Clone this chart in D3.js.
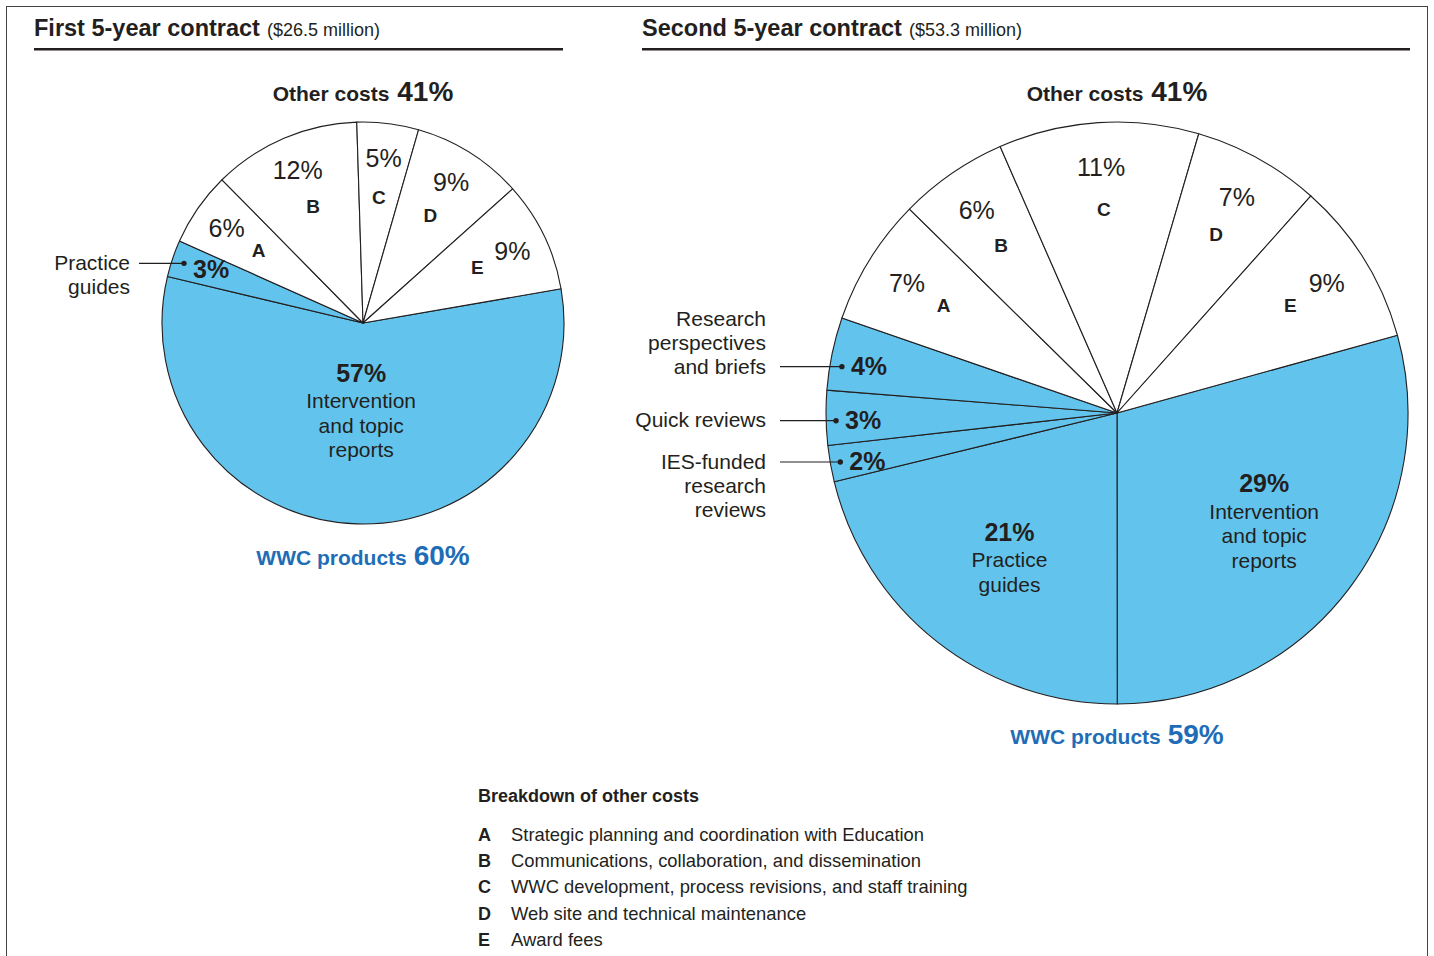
<!DOCTYPE html>
<html><head><meta charset="utf-8">
<script src="https://cdn.jsdelivr.net/npm/d3@7"></script>
<style>
html,body{margin:0;padding:0;background:#fff;}
svg{display:block;font-family:"Liberation Sans",Arial,Helvetica,sans-serif;}
</style></head><body>
<svg id="chart" width="1434" height="956"></svg>
<script>
// ---------------- data ----------------
const contractTitles = ["First 5-year contract", "Second 5-year contract"];
const contractAmounts = ["($26.5 million)", "($53.3 million)"];
const otherCostTotals = [41, 41];
const productTotals = [60, 59];

const firstCategories = ["Intervention and topic reports", "Practice guides", "A", "B", "C", "D", "E"];
const firstValues = [57, 3, 6, 12, 5, 9, 9];
const firstGroups = ["product", "product", "other", "other", "other", "other", "other"];

const secondCategories = ["Intervention and topic reports", "Practice guides", "IES-funded research reviews",
  "Quick reviews", "Research perspectives and briefs", "A", "B", "C", "D", "E"];
const secondValues = [29, 21, 2, 3, 4, 7, 6, 11, 7, 9];
const secondGroups = ["product", "product", "product", "product", "product", "other", "other", "other", "other", "other"];

const legendTitle = "Breakdown of other costs";
const legendKeys = ["A", "B", "C", "D", "E"];
const legendLabels = ["Strategic planning and coordination with Education",
  "Communications, collaboration, and dissemination",
  "WWC development, process revisions, and staff training",
  "Web site and technical maintenance",
  "Award fees"];

// ---------------- layout / style ----------------
const INK = "#231f20", FILL_PRODUCT = "#62c4ed", FILL_OTHER = "#ffffff", BLUE_TEXT = "#1f6db6";
const wrapLines = {
  "Intervention and topic reports": ["Intervention", "and topic", "reports"],
  "Practice guides": ["Practice", "guides"],
  "IES-funded research reviews": ["IES-funded", "research", "reviews"],
  "Quick reviews": ["Quick reviews"],
  "Research perspectives and briefs": ["Research", "perspectives", "and briefs"]
};
const deg = Math.PI / 180;
const charts = [
  { cats: firstCategories, vals: firstValues, groups: firstGroups,
    cx: 363, cy: 323, r: 201, start: 80.2, pctR: 166, letterR: 127, insideR: 59, calloutR: 189, leaderX: 139,
    textGap: 9, calloutPctDy: 15,
    hx0: 34, hx1: 563, otherY: 101, productY: 565,
    modes: { "Intervention and topic reports": "inside", "Practice guides": "callout" },
    align: { "Practice guides": "top" }, nudge: { "Practice guides": [0, 1] } },
  { cats: secondCategories, vals: secondValues, groups: secondGroups,
    cx: 1117, cy: 413, r: 291, start: 74.5, pctR: 247, letterR: 204, insideR: 166, calloutR: 281, leaderX: 780,
    textGap: 14, calloutPctDy: 8,
    hx0: 642, hx1: 1410, otherY: 101, productY: 744,
    modes: { "Intervention and topic reports": "inside", "Practice guides": "inside",
      "IES-funded research reviews": "callout", "Quick reviews": "callout", "Research perspectives and briefs": "callout" },
    align: { "IES-funded research reviews": "top", "Quick reviews": "top", "Research perspectives and briefs": "bottom" },
    nudge: { "Intervention and topic reports": [15, -21], "Practice guides": [-5, -3],
      "Research perspectives and briefs": [0, 11], "Quick reviews": [0, 3], "IES-funded research reviews": [0, 0] } }
];

const svg = d3.select("#chart");

// outer frame
svg.append("rect").attr("x", 6.5).attr("y", 6.5).attr("width", 1421).attr("height", 1000)
  .attr("fill", "none").attr("stroke", "#444").attr("stroke-width", 1);

charts.forEach((c, ci) => {
  const g = svg.append("g");
  // header
  const t = g.append("text").attr("x", c.hx0).attr("y", 36).attr("fill", INK)
    .attr("font-size", 23.5).attr("font-weight", "bold").text(contractTitles[ci]);
  const tw = t.node().getComputedTextLength();
  g.append("text").attr("x", c.hx0 + tw + 7).attr("y", 36).attr("fill", INK)
    .attr("font-size", 18).text(contractAmounts[ci]);
  g.append("line").attr("x1", c.hx0).attr("x2", c.hx1).attr("y1", 49.3).attr("y2", 49.3)
    .attr("stroke", INK).attr("stroke-width", 2.6);

  // other costs heading
  const oc = g.append("text").attr("x", c.cx).attr("y", c.otherY).attr("text-anchor", "middle")
    .attr("fill", INK).attr("font-weight", "bold");
  oc.append("tspan").attr("font-size", 21).text("Other costs ");
  oc.append("tspan").attr("font-size", 28).attr("dx", 2).text(otherCostTotals[ci] + "%");

  // pie
  const items = c.cats.map((k, i) => ({ cat: k, value: c.vals[i], group: c.groups[i] }));
  const pie = d3.pie().sort(null).value(d => d.value)
    .startAngle(c.start * deg).endAngle(c.start * deg + 2 * Math.PI);
  const arcs = pie(items);
  const arc = d3.arc().innerRadius(0).outerRadius(c.r);
  const pg = g.append("g").attr("transform", `translate(${c.cx},${c.cy})`);
  pg.selectAll("path").data(arcs).join("path")
    .attr("d", arc)
    .attr("fill", d => d.data.group === "product" ? FILL_PRODUCT : FILL_OTHER)
    .attr("stroke", INK).attr("stroke-width", 1.1).attr("stroke-linejoin", "round");

  const polar = (a, rr) => [c.cx + rr * Math.sin(a), c.cy - rr * Math.cos(a)];

  arcs.forEach(d => {
    const mid = (d.startAngle + d.endAngle) / 2;
    const mode = c.modes[d.data.cat] || "letter";
    const pct = d.data.value + "%";
    const nd = c.nudge[d.data.cat] || [0, 0];
    if (mode === "letter") {
      const [px, py] = polar(mid, c.pctR);
      g.append("text").attr("x", px).attr("y", py).attr("dy", "0.36em").attr("text-anchor", "middle")
        .attr("fill", INK).attr("font-size", 25).text(pct);
      const [lx, ly] = polar(mid, c.letterR);
      g.append("text").attr("x", lx).attr("y", ly).attr("dy", "0.36em").attr("text-anchor", "middle")
        .attr("fill", INK).attr("font-size", 19).attr("font-weight", "bold").text(d.data.cat);
    } else if (mode === "inside") {
      let [ax, ay] = polar(mid, c.insideR);
      ax += nd[0]; ay += nd[1];
      g.append("text").attr("x", ax).attr("y", ay).attr("text-anchor", "middle")
        .attr("fill", INK).attr("font-size", 25).attr("font-weight", "bold").text(pct);
      wrapLines[d.data.cat].forEach((ln, li) => {
        g.append("text").attr("x", ax).attr("y", ay + 26.5 + li * 24.5).attr("text-anchor", "middle")
          .attr("fill", INK).attr("font-size", 21).text(ln);
      });
    } else {
      let [dx, dy] = polar(mid, c.calloutR);
      dx += nd[0]; dy += nd[1];
      g.append("line").attr("x1", c.leaderX).attr("x2", dx).attr("y1", dy).attr("y2", dy)
        .attr("stroke", INK).attr("stroke-width", 1.2);
      g.append("circle").attr("cx", dx).attr("cy", dy).attr("r", 2.7).attr("fill", INK);
      g.append("text").attr("x", dx + 9).attr("y", dy + c.calloutPctDy)
        .attr("fill", INK).attr("font-size", 25).attr("font-weight", "bold").text(pct);
      const lines = wrapLines[d.data.cat];
      const y0 = c.align[d.data.cat] === "bottom" ? dy + 6.5 - (lines.length - 1) * 23.7 : dy + 6.5;
      lines.forEach((ln, li) => {
        g.append("text").attr("x", c.leaderX - c.textGap).attr("y", y0 + li * 24).attr("text-anchor", "end")
          .attr("fill", INK).attr("font-size", 21).text(ln);
      });
    }
  });

  // WWC products total
  const wp = g.append("text").attr("x", c.cx).attr("y", c.productY).attr("text-anchor", "middle")
    .attr("fill", BLUE_TEXT).attr("font-weight", "bold");
  wp.append("tspan").attr("font-size", 21).text("WWC products ");
  wp.append("tspan").attr("font-size", 28).attr("dx", 1).text(productTotals[ci] + "%");
});

// legend
const lg = svg.append("g");
lg.append("text").attr("x", 478).attr("y", 802).attr("fill", INK)
  .attr("font-size", 18).attr("font-weight", "bold").text(legendTitle);
legendKeys.forEach((k, i) => {
  const y = 841 + i * 26.2;
  lg.append("text").attr("x", 478).attr("y", y).attr("fill", INK)
    .attr("font-size", 18).attr("font-weight", "bold").text(k);
  lg.append("text").attr("x", 511).attr("y", y).attr("fill", INK)
    .attr("font-size", 18.4).text(legendLabels[i]);
});
</script>
</body></html>
